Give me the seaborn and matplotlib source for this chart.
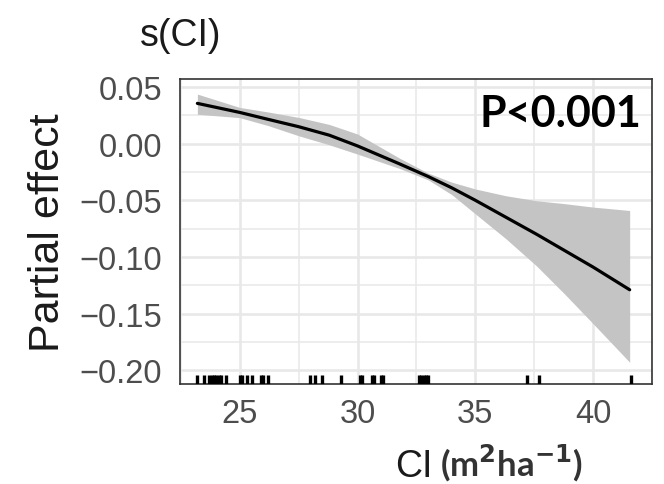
"""Partial effect of CI from a GAM smooth, s(CI)."""

import matplotlib
matplotlib.use("Agg")
import matplotlib.pyplot as plt
import numpy as np
import pandas as pd
import seaborn as sns

# Smooth estimate
ci_grid = [23.2, 25.0, 26.2, 27.5, 28.8, 30.0, 31.8, 33.0, 34.0, 35.0, 36.3, 37.6, 38.8, 40.0, 41.55]
fit = [0.0356, 0.0276, 0.0215, 0.015, 0.0075, -0.002, -0.018, -0.029, -0.039, -0.050, -0.065, -0.080, -0.0945, -0.109, -0.129]
upper = [0.0438, 0.032, 0.028, 0.0232, 0.017, 0.0085, -0.013, -0.026, -0.034, -0.040, -0.046, -0.0504, -0.053, -0.056, -0.059]
lower = [0.026, 0.023, 0.016, 0.007, -0.001, -0.0092, -0.022, -0.032, -0.045, -0.062, -0.084, -0.108, -0.133, -0.159, -0.193]

# Observed CI values (rug)
ci_obs = [23.2, 23.5, 23.7, 23.8, 23.9, 24.0, 24.1, 24.2, 24.4, 25.0, 25.1, 25.3, 25.5,
          25.9, 26.0, 26.2, 28.0, 28.2, 28.5, 29.3, 30.1, 30.2, 30.6, 30.7, 31.0, 31.1,
          32.6, 32.7, 32.8, 32.9, 33.0, 37.2, 37.7, 41.6]

x_ticks = [25, 30, 35, 40]
y_ticks = [0.05, 0.00, -0.05, -0.10, -0.15, -0.20]

df = pd.DataFrame({"CI": ci_grid, "fit": fit, "upper": upper, "lower": lower})

sns.set_style("white")
plt.rcParams["font.family"] = ["Liberation Sans", "DejaVu Sans"]

fig = plt.figure(figsize=(6.64, 4.85), dpi=100)
ax = fig.add_axes([0.271, 0.206, 0.711, 0.629])

# Grid: major + minor, light grey
for v in np.arange(22.5, 42.6, 2.5):
    ax.axvline(v, color="#E8E8E8", lw=1.9 if v % 5 == 0 else 1.1, zorder=0)
for v in np.arange(-0.2, 0.051, 0.025):
    ax.axhline(v, color="#E8E8E8", lw=1.9 if round(v / 0.05, 6) % 1 == 0 else 1.1, zorder=0)

ax.fill_between(df["CI"], df["lower"], df["upper"], color="#C4C4C4", lw=0, zorder=1)
sns.lineplot(data=df, x="CI", y="fit", color="black", lw=2.3, ax=ax, zorder=2)
sns.rugplot(x=ci_obs, height=0.03, color="black", linewidth=2.4, ax=ax, zorder=3)

ax.set_xlim(22.46, 42.5)
ax.set_ylim(-0.2123, 0.0571)
ax.set_xticks(x_ticks)
ax.set_yticks(y_ticks)
ax.set_yticklabels([f"{v:.2f}".replace("-", "\u2212") for v in y_ticks])
ax.tick_params(axis="both", labelsize=23.5, labelcolor="#4D4D4D", color="#333333",
               length=6, width=1.8, direction="out")
ax.tick_params(axis="y", pad=7)
ax.tick_params(axis="x", pad=4)

for s in ax.spines.values():
    s.set_color("#333333")
    s.set_linewidth(1.2)

ax.set_xlabel("")
ax.set_ylabel("Partial effect", fontsize=31, color="#1A1A1A", labelpad=8)

fig.text(0.211, 0.925, "s(CI)", fontsize=27, color="#1A1A1A", ha="left", va="center")
ax.text(0.978, 0.955, "P<0.001", transform=ax.transAxes, fontsize=31, fontweight="bold",
        family="Lato", ha="right", va="top", color="black")

fig.text(0.652, 0.038, "CI", fontsize=27, color="#1A1A1A", ha="right", va="center")
fig.text(0.662, 0.045, "(m$^\\mathbf{2}$ha$^\\mathbf{-1}$)", fontsize=25, fontweight="bold",
         family="Lato", color="#333333", ha="left", va="center")

plt.savefig("out.png", dpi=100)
plt.close()
